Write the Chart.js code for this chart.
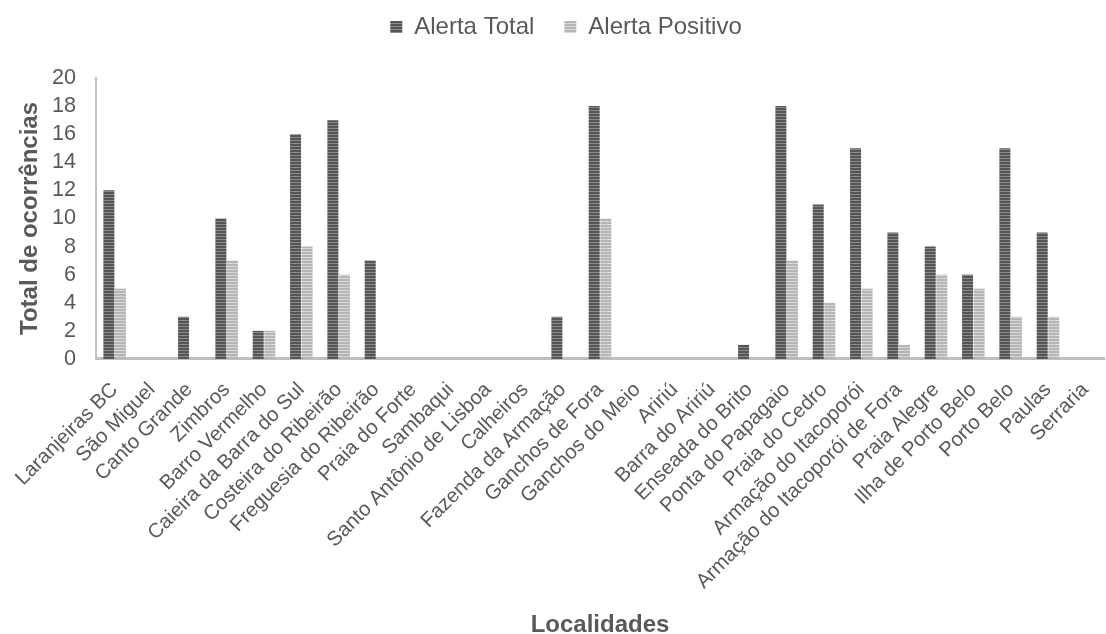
<!DOCTYPE html>
<html>
<head>
<meta charset="utf-8">
<script src="https://cdn.jsdelivr.net/npm/chart.js@4"></script>
<style>
  html, body { margin: 0; padding: 0; background: #fff; }
  #wrap { width: 1106px; height: 634px; }
</style>
</head>
<body>
<div id="wrap"><canvas id="chart"></canvas></div>
<script>
// Localidades (eixo x)
const localidades = [
  'Laranjeiras BC', 'São Miguel', 'Canto Grande', 'Zimbros', 'Barro Vermelho',
  'Caieira da Barra do Sul', 'Costeira do Ribeirão', 'Freguesia do Ribeirão',
  'Praia do Forte', 'Sambaqui', 'Santo Antônio de Lisboa', 'Calheiros',
  'Fazenda da Armação', 'Ganchos de Fora', 'Ganchos do Meio', 'Aririú',
  'Barra do Aririú', 'Enseada do Brito', 'Ponta do Papagaio', 'Praia do Cedro',
  'Armação do Itacoporói', 'Armação do Itacoporói de Fora', 'Praia Alegre',
  'Ilha de Porto Belo', 'Porto Belo', 'Paulas', 'Serraria'
];

const alertaTotal    = [12, 0, 3, 10, 2, 16, 17, 7, 0, 0, 0, 0, 3, 18, 0, 0, 0, 1, 18, 11, 15, 9, 8, 6, 15, 9, 0];
const alertaPositivo = [5, 0, 0, 7, 2, 8, 6, 0, 0, 0, 0, 0, 0, 10, 0, 0, 0, 0, 7, 4, 5, 1, 6, 5, 3, 3, 0];

const yTicks = [0, 2, 4, 6, 8, 10, 12, 14, 16, 18, 20];

// horizontal stripe fill, like the original bars
function stripes(base, line) {
  const c = document.createElement('canvas');
  c.width = 4; c.height = 3;
  const g = c.getContext('2d');
  g.fillStyle = base; g.fillRect(0, 0, 4, 3);
  g.fillStyle = line; g.fillRect(0, 2, 4, 1);
  return g.createPattern(c, 'repeat');
}

const TXT = '#595959';
const FONT = 'Liberation Sans, Arial, sans-serif';

// more room under the legend, and nudge it right a little
const legendTweak = {
  id: 'legendTweak',
  afterInit(chart) {
    const lg = chart.legend;
    const fit = lg.fit;
    lg.fit = function () { fit.call(this); this.height += 29; };
    const draw = lg.draw;
    lg.draw = function () {
      const ctx = this.ctx;
      ctx.save();
      ctx.translate(8, 0);
      draw.call(this);
      ctx.restore();
    };
  }
};

new Chart(document.getElementById('chart'), {
  type: 'bar',
  data: {
    labels: localidades,
    datasets: [
      {
        label: 'Alerta Total',
        data: alertaTotal,
        backgroundColor: stripes('#555555', '#8a8a8a'),
        borderWidth: 0,
        categoryPercentage: 0.62,
        barPercentage: 0.95
      },
      {
        label: 'Alerta Positivo',
        data: alertaPositivo,
        backgroundColor: stripes('#b5b5b5', '#d8d8d8'),
        borderWidth: 0,
        categoryPercentage: 0.62,
        barPercentage: 0.95
      }
    ]
  },
  plugins: [legendTweak],
  options: {
    responsive: true,
    maintainAspectRatio: false,
    animation: false,
    layout: { padding: { left: 12, right: 2, top: -15, bottom: 0 } },
    plugins: {
      legend: {
        position: 'top',
        labels: {
          color: TXT,
          font: { family: FONT, size: 24 },
          boxWidth: 12,
          boxHeight: 12,
          padding: 30
        }
      },
      tooltip: { enabled: false }
    },
    scales: {
      x: {
        grid: { display: false, drawTicks: false },
        border: { display: true, color: '#bfbfbf', width: 3 },
        ticks: {
          color: TXT,
          font: { family: FONT, size: 20.4 },
          minRotation: 45,
          maxRotation: 45,
          autoSkip: false,
          padding: 19
        },
        title: {
          display: true,
          text: 'Localidades',
          color: TXT,
          font: { family: FONT, size: 24, weight: 'bold', lineHeight: 1 },
          padding: { top: 0, bottom: -3 }
        },
        afterFit: s => { s.paddingRight = 0; s.paddingLeft = 0; }
      },
      y: {
        min: 0,
        max: 20,
        afterBuildTicks: s => { s.ticks = yTicks.map(v => ({ value: v })); },
        grid: { display: false, drawTicks: false },
        border: { display: true, color: '#bfbfbf', width: 2 },
        ticks: {
          color: TXT,
          font: { family: FONT, size: 21.6 },
          padding: 20,
          autoSkip: false
        },
        title: {
          display: true,
          text: 'Total de ocorrências',
          color: TXT,
          font: { family: FONT, size: 24, weight: 'bold' },
          padding: { top: 4, bottom: 4 }
        },
        afterFit: s => { s.width = 84; }
      }
    }
  }
});
</script>
</body>
</html>
